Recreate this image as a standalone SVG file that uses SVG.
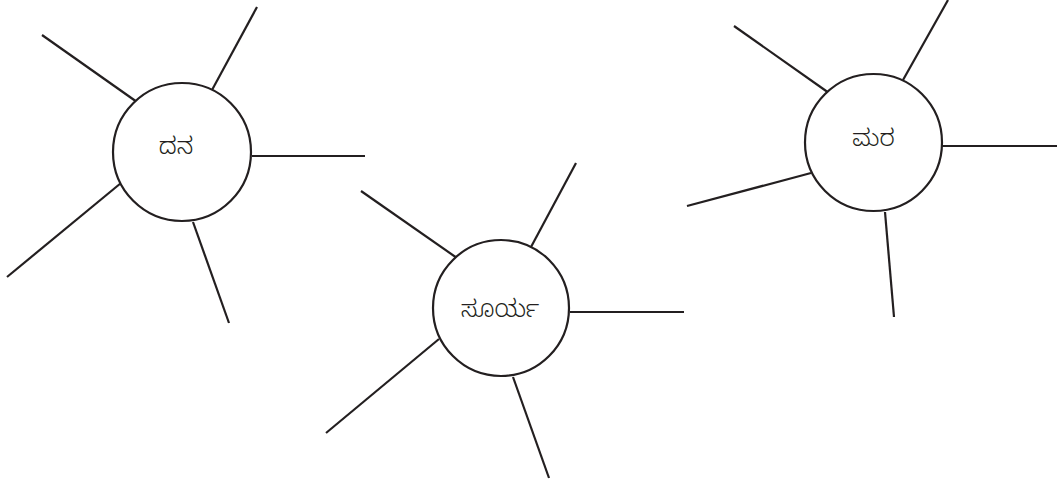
<svg xmlns="http://www.w3.org/2000/svg" width="1059" height="484" viewBox="0 0 1059 484">
<style>
.c{fill:#fff;stroke:#231f20;stroke-width:2.2}
.l{stroke:#231f20;stroke-width:2.2;fill:none}
.t{font-family:"Noto Sans Kannada","Noto Sans","DejaVu Sans",sans-serif;font-size:24px;font-weight:300;fill:#231f20;text-anchor:middle}
</style>
<rect width="1059" height="484" fill="#fff"/>
<g id="connectors">
<line class="l" x1="42" y1="35" x2="137" y2="102"/>
<line class="l" x1="257" y1="7" x2="212" y2="90"/>
<line class="l" x1="252" y1="156" x2="365" y2="156"/>
<line class="l" x1="7" y1="277" x2="121" y2="183"/>
<line class="l" x1="193" y1="222" x2="229" y2="323"/>
<line class="l" x1="361" y1="191" x2="457" y2="258"/>
<line class="l" x1="576" y1="163" x2="531" y2="247"/>
<line class="l" x1="570" y1="312" x2="684" y2="312"/>
<line class="l" x1="326" y1="433" x2="439" y2="339"/>
<line class="l" x1="513" y1="377" x2="549" y2="478"/>
<line class="l" x1="734" y1="26" x2="829" y2="93"/>
<line class="l" x1="948" y1="0" x2="903" y2="80"/>
<line class="l" x1="942" y1="146" x2="1057" y2="146"/>
<line class="l" x1="687" y1="206" x2="811" y2="173"/>
<line class="l" x1="885" y1="212" x2="894" y2="317"/>
</g>
<g id="node-dana">
<circle class="c" cx="182" cy="152" r="69"/>
<text class="t" x="176" y="154">ದನ</text>
</g>
<g id="node-surya">
<circle class="c" cx="501" cy="308" r="68"/>
<text class="t" x="500" y="317">ಸೂರ್ಯ</text>
</g>
<g id="node-mara">
<circle class="c" cx="873.5" cy="142.5" r="68.5"/>
<text class="t" x="873.5" y="146">ಮರ</text>
</g>
</svg>
